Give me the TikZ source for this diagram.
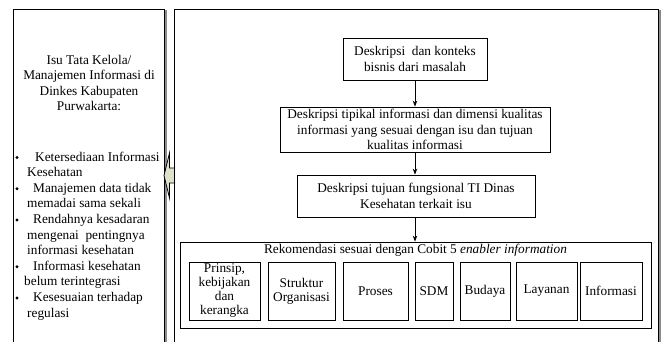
\documentclass[tikz,border=0pt]{standalone}
\usepackage{fontspec}
\setmainfont{Liberation Serif}
\usetikzlibrary{arrows.meta,shadows}
\definecolor{arrowfill}{RGB}{222,226,204}
\definecolor{shadowgray}{RGB}{140,140,140}
\begin{document}
\begin{tikzpicture}[x=1pt,y=-1pt,
  every node/.style={font=\fontsize{13.3}{15.5}\selectfont},
  frame/.style={draw,line width=0.8pt,inner sep=0pt},
  boxshadow/.style={drop shadow={shadow xshift=1.3pt,shadow yshift=-1.3pt,fill=shadowgray,opacity=1}},
  flowbox/.style={draw,line width=0.8pt,fill=white,align=center,inner sep=0pt,boxshadow},
  subbox/.style={flowbox,minimum height=58pt,font=\fontsize{13.3}{14}\selectfont},
  textline/.style={anchor=base west,inner sep=0pt},
  bulletdot/.style={circle,fill=black,inner sep=0pt,minimum size=3.2pt},
  flow/.style={line width=0.8pt,-{Stealth[length=6pt,width=4.5pt]}}]
\useasboundingbox (0,0) rectangle (664,342);

% left column frame with its shadow edge
\draw[shadowgray,line width=1.3pt] (166,10) -- (166,352);
\node[frame,minimum width=151pt,minimum height=343pt] (left) at (88.5,180.5) {};

\node[align=center] (title) at (89,83)
  {Isu Tata Kelola/\\Manajemen Informasi di\\Dinkes Kabupaten\\Purwakarta:};

% bullet list
\node[bulletdot] (b1) at (17,157.5) {};
\node[bulletdot] (b2) at (17,188.7) {};
\node[bulletdot] (b3) at (17,219.9) {};
\node[bulletdot] (b4) at (17,266.7) {};
\node[bulletdot] (b5) at (17,297.9) {};

\node[textline] (l1) at (35,161) {Ketersediaan Informasi};
\node[textline] (l2) at (27,176.6) {Kesehatan};
\node[textline] (l3) at (33,192.2) {Manajemen data tidak};
\node[textline] (l4) at (27,207.8) {memadai sama sekali};
\node[textline] (l5) at (33,223.4) {Rendahnya kesadaran};
\node[textline] (l6) at (27,239) {mengenai\ \ pentingnya};
\node[textline] (l7) at (27,254.6) {informasi kesehatan};
\node[textline] (l8) at (33,270.2) {Informasi kesehatan};
\node[textline] (l9) at (24,285.8) {belum terintegrasi};
\node[textline] (l10) at (33,301.4) {Kesesuaian terhadap};
\node[textline] (l11) at (27,317) {regulasi};

% block arrow pointing back to the issue list
\draw[line width=0.8pt,fill=arrowfill,line join=miter]
  (175,168) -- (169.5,168) -- (169.5,153) -- (164,175.5) -- (169.5,198)
  -- (169.5,183) -- (175,183);

% right frame with its shadow edge
\draw[shadowgray,line width=1.3pt] (660,10) -- (660,352);
\node[frame,minimum width=484pt,minimum height=343pt] (right) at (416,180.5) {};

% flow of descriptions
\node[flowbox,minimum width=144pt,minimum height=42pt] (d1) at (415,59)
  {Deskripsi\ \ dan konteks\\bisnis dari masalah};
\node[flowbox,minimum width=270pt,minimum height=45pt] (d2) at (415,129.5)
  {Deskripsi tipikal informasi dan dimensi kualitas\\informasi yang sesuai dengan isu dan tujuan\\kualitas informasi};
\node[flowbox,minimum width=238pt,minimum height=42pt] (d3) at (416,196)
  {Deskripsi tujuan fungsional TI Dinas\\Kesehatan terkait isu};

% recommendation group
\node[flowbox,minimum width=471pt,minimum height=86pt] (rek) at (415.5,285) {};
\node (rektitle) at (415.5,250)
  {Rekomendasi sesuai dengan Cobit 5 \textit{enabler information}};

\node[subbox,minimum width=71pt] (s1) at (224.5,291) {Prinsip,\\kebijakan\\dan\\kerangka};
\node[subbox,minimum width=67pt] (s2) at (301.5,291) {Struktur\\Organisasi};
\node[subbox,minimum width=65pt] (s3) at (375.5,291) {Proses};
\node[subbox,minimum width=38pt] (s4) at (434,291) {SDM};
\node[subbox,minimum width=50pt] (s5) at (485,291) {Budaya};
\node[subbox,minimum width=61pt] (s6) at (546.5,291) {Layanan};
\node[subbox,minimum width=62pt] (s7) at (611,291) {Informasi};

% connectors
\draw[flow] (d1.south) -- (d2.north);
\draw[flow] (d2.south) -- (d2.south |- d3.north);
\draw[flow] (d2.south |- d3.south) -- (d2.south |- rek.north);
\end{tikzpicture}
\end{document}
